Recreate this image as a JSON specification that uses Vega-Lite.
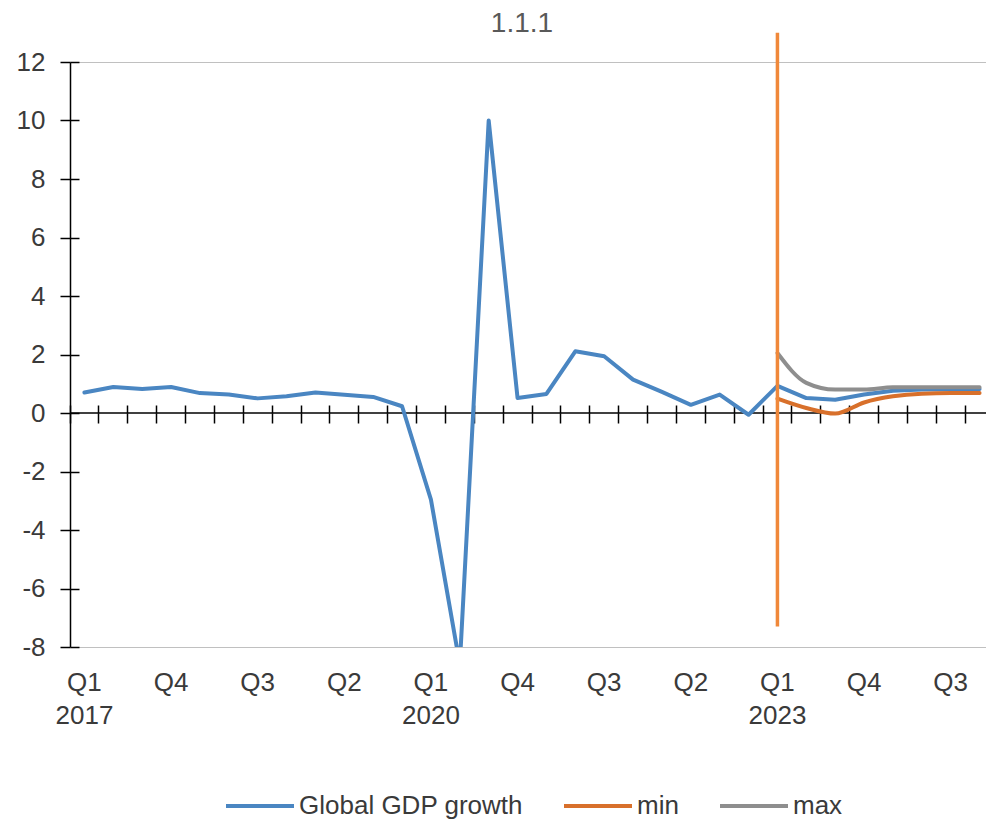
{
  "$schema": "https://vega.github.io/schema/vega-lite/v6.json",
  "autosize": {"type": "none"},
  "padding": {"left": 70, "top": 62, "right": 0, "bottom": 175},
  "width": 916,
  "height": 585,
  "title": {
    "text": "1.1.1",
    "fontSize": 28,
    "fontWeight": "normal",
    "color": "#595959",
    "anchor": "middle",
    "dy": 16,
    "dx": -6
  },
  "config": {
    "font": "Liberation Sans",
    "view": {"stroke": null},
    "axis": {"labelFont": "Liberation Sans", "labelColor": "#3a3a3a"}
  },
  "datasets": {
    "gdp": [
      {"quarter": "2017 Q1", "series": "Global GDP growth", "value": 0.70},
      {"quarter": "2017 Q2", "series": "Global GDP growth", "value": 0.89},
      {"quarter": "2017 Q3", "series": "Global GDP growth", "value": 0.82},
      {"quarter": "2017 Q4", "series": "Global GDP growth", "value": 0.89},
      {"quarter": "2018 Q1", "series": "Global GDP growth", "value": 0.68},
      {"quarter": "2018 Q2", "series": "Global GDP growth", "value": 0.63},
      {"quarter": "2018 Q3", "series": "Global GDP growth", "value": 0.50},
      {"quarter": "2018 Q4", "series": "Global GDP growth", "value": 0.57},
      {"quarter": "2019 Q1", "series": "Global GDP growth", "value": 0.70},
      {"quarter": "2019 Q2", "series": "Global GDP growth", "value": 0.62},
      {"quarter": "2019 Q3", "series": "Global GDP growth", "value": 0.55},
      {"quarter": "2019 Q4", "series": "Global GDP growth", "value": 0.23},
      {"quarter": "2020 Q1", "series": "Global GDP growth", "value": -2.96},
      {"quarter": "2020 Q2", "series": "Global GDP growth", "value": -8.6},
      {"quarter": "2020 Q3", "series": "Global GDP growth", "value": 10.0},
      {"quarter": "2020 Q4", "series": "Global GDP growth", "value": 0.51},
      {"quarter": "2021 Q1", "series": "Global GDP growth", "value": 0.65},
      {"quarter": "2021 Q2", "series": "Global GDP growth", "value": 2.11},
      {"quarter": "2021 Q3", "series": "Global GDP growth", "value": 1.94},
      {"quarter": "2021 Q4", "series": "Global GDP growth", "value": 1.14},
      {"quarter": "2022 Q1", "series": "Global GDP growth", "value": 0.72},
      {"quarter": "2022 Q2", "series": "Global GDP growth", "value": 0.28},
      {"quarter": "2022 Q3", "series": "Global GDP growth", "value": 0.63},
      {"quarter": "2022 Q4", "series": "Global GDP growth", "value": -0.06},
      {"quarter": "2023 Q1", "series": "Global GDP growth", "value": 0.93},
      {"quarter": "2023 Q2", "series": "Global GDP growth", "value": 0.51},
      {"quarter": "2023 Q3", "series": "Global GDP growth", "value": 0.45},
      {"quarter": "2023 Q4", "series": "Global GDP growth", "value": 0.63},
      {"quarter": "2024 Q1", "series": "Global GDP growth", "value": 0.76},
      {"quarter": "2024 Q2", "series": "Global GDP growth", "value": 0.80},
      {"quarter": "2024 Q3", "series": "Global GDP growth", "value": 0.81},
      {"quarter": "2024 Q4", "series": "Global GDP growth", "value": 0.82},
      {"quarter": "2023 Q1", "series": "min", "value": 0.49},
      {"quarter": "2023 Q2", "series": "min", "value": 0.17},
      {"quarter": "2023 Q3", "series": "min", "value": -0.02},
      {"quarter": "2023 Q4", "series": "min", "value": 0.36},
      {"quarter": "2024 Q1", "series": "min", "value": 0.57},
      {"quarter": "2024 Q2", "series": "min", "value": 0.66},
      {"quarter": "2024 Q3", "series": "min", "value": 0.68},
      {"quarter": "2024 Q4", "series": "min", "value": 0.68},
      {"quarter": "2023 Q1", "series": "max", "value": 2.05},
      {"quarter": "2023 Q2", "series": "max", "value": 1.03},
      {"quarter": "2023 Q3", "series": "max", "value": 0.80},
      {"quarter": "2023 Q4", "series": "max", "value": 0.80},
      {"quarter": "2024 Q1", "series": "max", "value": 0.88},
      {"quarter": "2024 Q2", "series": "max", "value": 0.88},
      {"quarter": "2024 Q3", "series": "max", "value": 0.88},
      {"quarter": "2024 Q4", "series": "max", "value": 0.88}
    ],
    "marker": [
      {"quarter": "2023 Q1", "value": 13},
      {"quarter": "2023 Q1", "value": -7.3}
    ]
  },
  "layer": [
    {
      "data": {"values": [{"level": 0}]},
      "mark": {"type": "rule", "color": "#000000", "strokeWidth": 1.5},
      "encoding": {
        "y": {"field": "level", "type": "quantitative", "scale": {"domain": [-8, 12], "nice": false, "zero": false},
          "axis": {"orient": "left", "title": null, "values": [-8, 12], "grid": true, "gridColor": "#c0c0c0", "gridWidth": 1, "labels": false, "ticks": false, "domain": false}}
      }
    },
    {
      "data": {"name": "gdp"},
      "transform": [{"filter": "datum.series == 'Global GDP growth'"}],
      "mark": {"type": "line", "strokeWidth": 4, "strokeCap": "round", "strokeJoin": "round", "clip": true},
      "encoding": {
        "x": {"field": "quarter", "type": "ordinal",
          "scale": {"type": "band", "paddingInner": 0, "paddingOuter": 0, "range": [0, 924]},
          "axis": {"orient": "bottom", "title": null, "bandPosition": 0.5, "ticks": false, "tickSize": 0, "domain": false,
            "values": ["2017 Q1", "2017 Q4", "2018 Q3", "2019 Q2", "2020 Q1", "2020 Q4", "2021 Q3", "2022 Q2", "2023 Q1", "2023 Q4", "2024 Q3"],
            "labelExpr": "slice(datum.value, 5) == 'Q1' ? [slice(datum.value, 5), slice(datum.value, 0, 4)] : slice(datum.value, 5)",
            "labelFontSize": 26, "labelPadding": 22, "labelLineHeight": 33, "labelAngle": 0, "labelAlign": "center", "labelBaseline": "top"}},
        "y": {"field": "value", "type": "quantitative",
          "axis": {"orient": "left", "title": null, "values": [-8, -6, -4, -2, 0, 2, 4, 6, 8, 10, 12], "grid": false, "domainColor": "#000000", "domainWidth": 1.5,
            "labelExpr": "datum.value < 0 ? '-' + abs(datum.value) : '' + datum.value",
            "tickColor": "#000000", "tickWidth": 1.5, "tickSize": 10, "labelFontSize": 26, "labelPadding": 15}},
        "color": {"field": "series", "type": "nominal",
          "scale": {"domain": ["Global GDP growth", "min", "max"], "range": ["#4a86c2", "#d8702b", "#8e8e8e"]},
          "legend": {"orient": "none", "legendX": 154, "legendY": 708, "direction": "horizontal", "title": null, "symbolType": "stroke", "symbolSize": 4624,
            "symbolStrokeWidth": 4, "labelFontSize": 26, "labelLimit": 400, "labelColor": "#3a3a3a", "labelOffset": 3, "columnPadding": 33}}
      }
    },
    {
      "data": {"name": "gdp"},
      "transform": [{"filter": "datum.series != 'Global GDP growth'"}],
      "mark": {"type": "line", "strokeWidth": 4, "strokeCap": "round", "strokeJoin": "round", "interpolate": "monotone"},
      "encoding": {
        "x": {"field": "quarter", "type": "ordinal",
          "axis": {"orient": "bottom", "title": null, "offset": -234, "bandPosition": 0, "labels": false, "domain": false,
            "tickColor": "#000000", "tickWidth": 1.5, "tickSize": 10}},
        "y": {"field": "value", "type": "quantitative",
          "axis": {"orient": "left", "title": null, "offset": -9, "values": [-8, -6, -4, -2, 0, 2, 4, 6, 8, 10, 12], "labels": false, "domain": false, "grid": false,
            "tickColor": "#000000", "tickWidth": 1.5, "tickSize": 9}},
        "color": {"field": "series", "type": "nominal"}
      }
    },
    {
      "data": {"name": "marker"},
      "mark": {"type": "line", "color": "#f0883a", "strokeWidth": 3.5},
      "encoding": {
        "x": {"field": "quarter", "type": "ordinal",
          "axis": {"orient": "bottom", "title": null, "offset": -242, "bandPosition": 0, "labels": false, "domain": false,
            "tickColor": "#000000", "tickWidth": 1.5, "tickSize": 8}},
        "y": {"field": "value", "type": "quantitative", "axis": null}
      }
    }
  ],
  "resolve": {"axis": {"x": "independent", "y": "independent"}}
}
